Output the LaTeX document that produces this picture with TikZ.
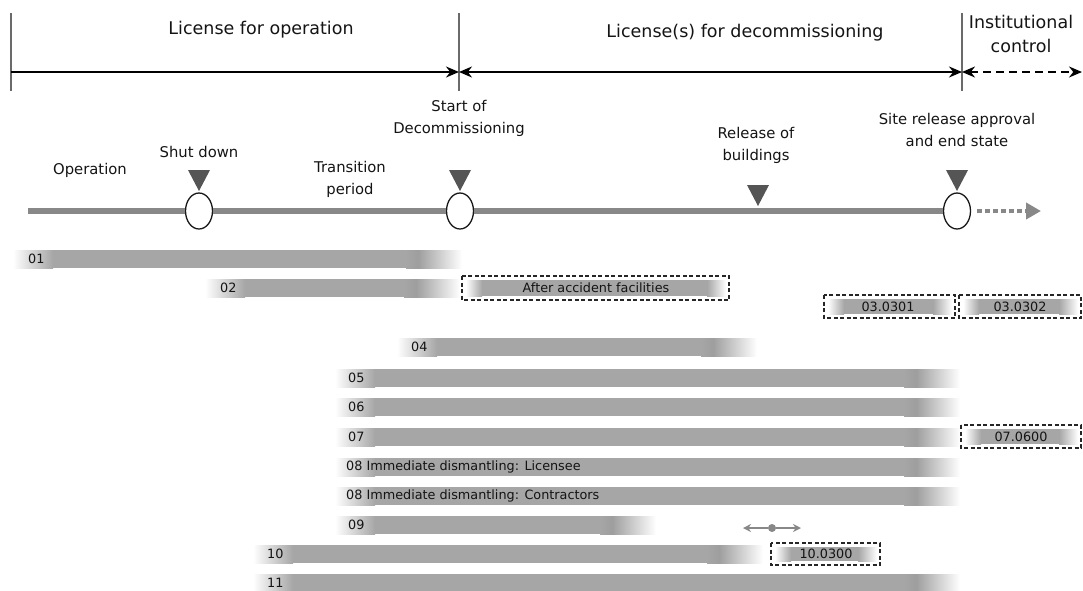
\documentclass[tikz,border=0pt]{standalone}
\usepackage{fontspec}
\setmainfont{DejaVu Sans}
\usetikzlibrary{arrows.meta,shapes.geometric}
\definecolor{barG}{HTML}{A6A6A6}
\definecolor{barD}{HTML}{9E9E9E}
\definecolor{lineG}{HTML}{888888}
\definecolor{triG}{HTML}{555555}
\definecolor{txt}{HTML}{141414}
\definecolor{rule}{HTML}{6A6A6A}

% shaded activity bar: x-start, x-end, y-centre
\newcommand\ganttbar[3]{%
  \fill[left color=white, right color=barG] (#1,#3-9) rectangle (#1+40,#3+9);
  \fill[barG] (#1+40,#3-9) rectangle (#2-56,#3+9);
  \fill[left color=barG, right color=barD] (#2-56,#3-9) rectangle (#2-44,#3+9);
  \fill[left color=barD, right color=white] (#2-44,#3-9) rectangle (#2,#3+9);
}
% dashed option box with a short inner bar: x-start, x-end, y-top, y-bottom
\newcommand\optbox[4]{%
  \fill[left color=white, right color=barG] (#1+4,#3+4) rectangle (#1+20,#4-4);
  \fill[barG] (#1+20,#3+4) rectangle (#2-22,#4-4);
  \fill[left color=barG, right color=white] (#2-22,#3+4) rectangle (#2-3,#4-4);
  \draw[boxline] (#1,#3) rectangle (#2,#4);
}

\begin{document}
\begin{tikzpicture}[x=1pt,y=-1pt,
  hdr/.style={font=\fontsize{17.5}{24}\selectfont, text=txt, align=center, inner sep=0},
  evt/.style={font=\fontsize{14.8}{22}\selectfont, text=txt, align=center, inner sep=0},
  bartext/.style={font=\fontsize{12.8}{14}\selectfont, text=txt, anchor=west, inner sep=0},
  boxtext/.style={font=\fontsize{12.8}{14}\selectfont, text=txt, inner sep=0},
  boxline/.style={draw=black!85, line width=1.2, dash pattern=on 4 off 2.5},
  milestone/.style={shape=ellipse, draw=black!90, fill=white, line width=1.3,
    minimum width=27, minimum height=36, inner sep=0},
  marker/.style={fill=triG},
  period/.style={line width=1.8, black}
]
\useasboundingbox (0,0) rectangle (1083,590);

% ---- licence periods ----
\coordinate (v1t) at (11,13);   \coordinate (v1b) at (11,91);
\coordinate (v2t) at (459,13);  \coordinate (v2b) at (459,91);
\coordinate (v3t) at (962,13);  \coordinate (v3b) at (962,91);
\draw[rule, line width=1.2] (v1t) -- (v1b);
\draw[rule, line width=1.2] (v2t) -- (v2b);
\draw[rule, line width=1.2] (v3t) -- (v3b);
\coordinate (a1) at (11,72);
\coordinate (a2) at (459,72);
\coordinate (a3) at (962,72);
\coordinate (a4) at (1082,72);
\draw[period, -{Stealth[length=13,width=11]}] (a1) -- (a2);
\draw[period, {Stealth[length=13,width=11]}-{Stealth[length=13,width=11]}] (a2) -- (a3);
\draw[period, dash pattern=on 8 off 5, {Stealth[length=13,width=11]}-{Stealth[length=13,width=11]}] (a3) -- (a4);
\node[hdr] (lop) at (261,30) {License for operation};
\node[hdr] (ldc) at (745,33) {License(s) for decommissioning};
\node[hdr] (inc) at (1021,34) {Institutional\\control};

% ---- timeline ----
\coordinate (tl0) at (28,211);
\node[milestone] (m1) at (199,211) {};
\node[milestone] (m2) at (460,211) {};
\node[milestone] (m4) at (957,211) {};
\coordinate (tlend) at (1041,211);
\draw[lineG, line width=5.5] (tl0) -- (m1);
\draw[lineG, line width=5.5] (m1) -- (m2);
\draw[lineG, line width=5.5] (m2) -- (m4);
\draw[lineG, line width=4.5, dash pattern=on 4.5 off 3.5,
  -{Triangle[length=15,width=16]}] ([xshift=6]m4.east) -- (tlend);

\fill[marker] (188,170) -- (210,170) -- (199,191) -- cycle;
\fill[marker] (449,170) -- (471,170) -- (460,191) -- cycle;
\fill[marker] (747,185) -- (769,185) -- (758,206) -- cycle;
\fill[marker] (946,170) -- (968,170) -- (957,191) -- cycle;

\node[evt] (op)  at (90,170)  {Operation};
\node[evt] (sd)  at (199,152) {Shut down};
\node[evt] (tp)  at (350,179) {Transition\\period};
\node[evt] (sod) at (459,118) {Start of\\Decommissioning};
\node[evt] (rob) at (756,145) {Release of\\buildings};
\node[evt] (sra) at (957,130) {Site release approval\\and end state};

% ---- activities ----
\ganttbar{13}{462}{259}   \node[bartext] (b01) at (28,259) {01};
\ganttbar{205}{460}{288}  \node[bartext] (b02) at (220,288) {02};
\optbox{462}{729}{276}{300}
\node[boxtext] (b02a) at (596,288) {After accident facilities};
\optbox{824}{955}{295}{318}
\node[boxtext] (b0301) at (888,306.5) {03.0301};
\optbox{959}{1081}{295}{318}
\node[boxtext] (b0302) at (1020,306.5) {03.0302};
\ganttbar{397}{757}{347}  \node[bartext] (b04) at (411,347) {04};
\ganttbar{335}{960}{378}  \node[bartext] (b05) at (348,378) {05};
\ganttbar{335}{960}{407}  \node[bartext] (b06) at (348,407) {06};
\ganttbar{335}{960}{437}  \node[bartext] (b07) at (348,437) {07};
\optbox{961}{1081}{425}{448}
\node[boxtext] (b0706) at (1021,436.5) {07.0600};
\ganttbar{335}{960}{467}  \node[bartext] (b08l) at (346,467) {08 Immediate dismantling: Licensee};
\ganttbar{335}{960}{496}  \node[bartext] (b08c) at (346,496) {08 Immediate dismantling: Contractors};
\ganttbar{335}{656}{525}  \node[bartext] (b09) at (348,525) {09};
\ganttbar{253}{763}{554}  \node[bartext] (b10) at (267,554) {10};
\optbox{771}{880}{543}{565}
\node[boxtext] (b1003) at (826,554) {10.0300};
\ganttbar{253}{960}{583}  \node[bartext] (b11) at (267,583) {11};

% ---- shift range of 10.0300 ----
\node[circle, fill=lineG, inner sep=0, minimum size=8] (sh) at (772,528) {};
\coordinate (shl) at (743,528);
\coordinate (shr) at (801,528);
\draw[lineG, line width=1.8, -{Stealth[length=8,width=8]}] (sh) -- (shl);
\draw[lineG, line width=1.8, -{Stealth[length=8,width=8]}] (sh) -- (shr);
\end{tikzpicture}
\end{document}
